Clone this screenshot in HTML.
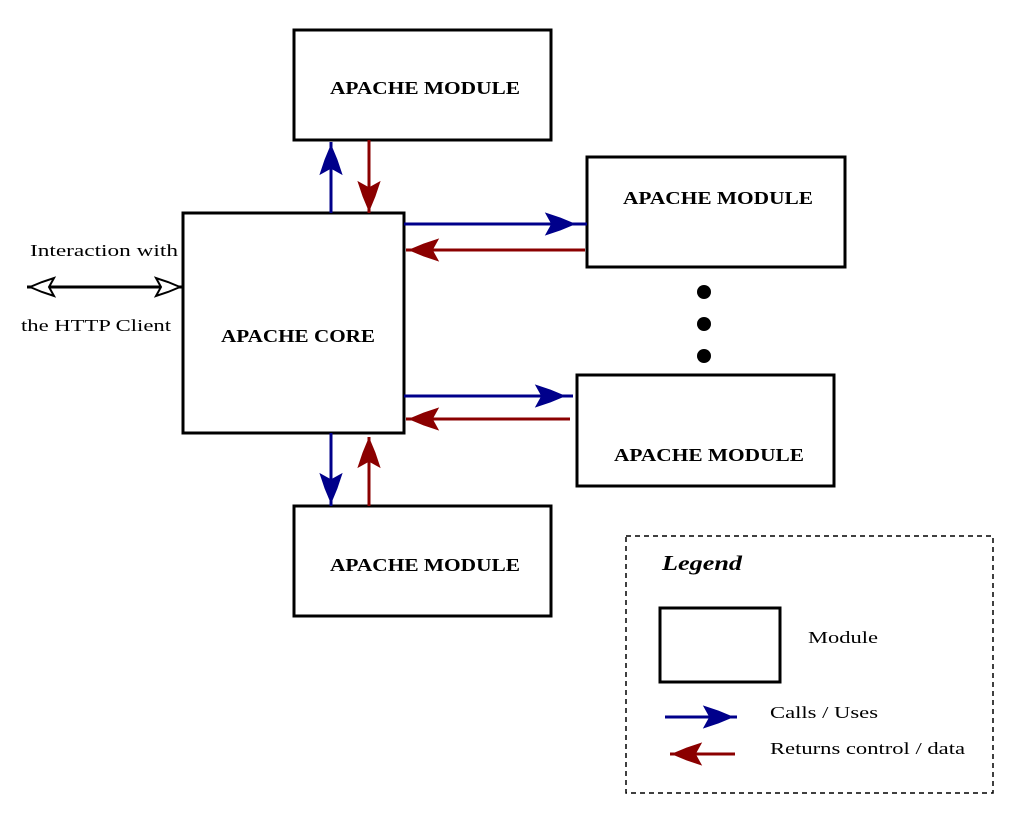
<!DOCTYPE html>
<html><head><style>body{margin:0;background:#fff}svg{display:block}text{font-family:"Liberation Serif",serif}</style></head>
<body>
<svg width="1018" height="823" viewBox="0 0 1018 823">
<defs>
<polygon id="ah" points="0,0 -12,-5 -24,-9 -19,0 -24,9 -12,5"/>
</defs>
<g fill="none" stroke="#000" stroke-width="3">
<rect x="294" y="30" width="257" height="110"/>
<rect x="587" y="157" width="258" height="110"/>
<rect x="577" y="375" width="257" height="111"/>
<rect x="294" y="506" width="257" height="110"/>
<rect x="183" y="213" width="221" height="220"/>
<rect x="660" y="608" width="120" height="74"/>
</g>
<rect x="626" y="536" width="367" height="257" fill="none" stroke="#000" stroke-width="1.5" stroke-dasharray="5,4"/>
<g fill="#000"><circle cx="704" cy="292" r="7"/><circle cx="704" cy="324" r="7"/><circle cx="704" cy="356" r="7"/></g>
<g font-size="18" font-weight="bold" lengthAdjust="spacingAndGlyphs">
<text x="330" y="94" textLength="190" lengthAdjust="spacingAndGlyphs">APACHE MODULE</text>
<text x="623" y="204" textLength="190" lengthAdjust="spacingAndGlyphs">APACHE MODULE</text>
<text x="614" y="461" textLength="190" lengthAdjust="spacingAndGlyphs">APACHE MODULE</text>
<text x="330" y="571" textLength="190" lengthAdjust="spacingAndGlyphs">APACHE MODULE</text>
<text x="221" y="342" textLength="154" lengthAdjust="spacingAndGlyphs">APACHE CORE</text>
</g>
<g font-size="17">
<text x="30" y="256" textLength="148" lengthAdjust="spacingAndGlyphs">Interaction with</text>
<text x="21" y="331" textLength="150" lengthAdjust="spacingAndGlyphs">the HTTP Client</text>
<text x="808" y="643" textLength="70" lengthAdjust="spacingAndGlyphs">Module</text>
<text x="770" y="718" textLength="108" lengthAdjust="spacingAndGlyphs">Calls / Uses</text>
<text x="770" y="754" textLength="195" lengthAdjust="spacingAndGlyphs">Returns control / data</text>
</g>
<text x="662" y="570" font-size="21" font-weight="bold" font-style="italic" textLength="80" lengthAdjust="spacingAndGlyphs">Legend</text>
<g stroke="#00008b" stroke-width="3" fill="#00008b">
<line x1="331" y1="213" x2="331" y2="142"/><use href="#ah" transform="translate(331,148) rotate(-90)"/>
<line x1="404" y1="224" x2="587" y2="224"/><use href="#ah" transform="translate(572,224)"/>
<line x1="404" y1="396" x2="573" y2="396"/><use href="#ah" transform="translate(562,396)"/>
<line x1="331" y1="433" x2="331" y2="506"/><use href="#ah" transform="translate(331,500) rotate(90)"/>
<line x1="665" y1="717" x2="737" y2="717"/><use href="#ah" transform="translate(730,717)"/>
</g>
<g stroke="#8b0000" stroke-width="3" fill="#8b0000">
<line x1="369" y1="140" x2="369" y2="213"/><use href="#ah" transform="translate(369,208) rotate(90)"/>
<line x1="585" y1="250" x2="406" y2="250"/><use href="#ah" transform="translate(412,250) rotate(180)"/>
<line x1="570" y1="419" x2="406" y2="419"/><use href="#ah" transform="translate(412,419) rotate(180)"/>
<line x1="369" y1="506" x2="369" y2="437"/><use href="#ah" transform="translate(369,441) rotate(-90)"/>
<line x1="735" y1="754" x2="670" y2="754"/><use href="#ah" transform="translate(675,754) rotate(180)"/>
</g>
<g stroke="#000" stroke-width="3" fill="#fff">
<line x1="27" y1="287" x2="183" y2="287"/>
<use href="#ah" transform="translate(180,287)" stroke-width="2"/>
<use href="#ah" transform="translate(30,287) rotate(180)" stroke-width="2"/>
</g>
</svg>
</body></html>
